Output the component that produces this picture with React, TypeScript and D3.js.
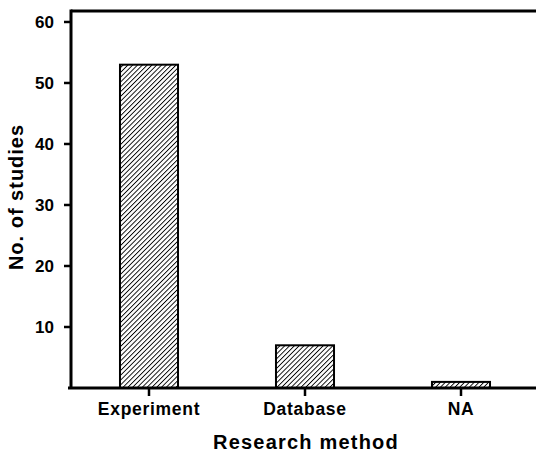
import React from "react";
import * as d3 from "d3";

const categories = ["Experiment", "Database", "NA"];
const studies = [53, 7, 1];
const yTicks = [10, 20, 30, 40, 50, 60];

const W = 536;
const H = 456;

export default function App() {
  const x = d3
    .scaleBand<string>()
    .domain(categories)
    .range([71, 539])
    .paddingInner(0.628)
    .paddingOuter(0.314);
  const y = d3.scaleLinear().domain([0, 61.8]).range([388, 11]);
  const font = "'Liberation Sans', Arial, sans-serif";

  return (
    <svg
      width={W}
      height={H}
      style={{ position: "absolute", left: 0, top: 0, background: "#fff" }}
      fontFamily={font}
      fontWeight="bold"
    >
      <defs>
        <pattern
          id="hatch"
          patternUnits="userSpaceOnUse"
          width={3.4}
          height={3.4}
          patternTransform="rotate(45)"
        >
          <rect width={3.4} height={3.4} fill="#fff" />
          <line x1={0} y1={0} x2={0} y2={3.4} stroke="#000" strokeWidth={1.8} />
        </pattern>
      </defs>
      <rect width={W} height={H} fill="#fff" />

      {categories.map((c, i) => (
        <rect
          key={c}
          x={x(c)!}
          y={y(studies[i])}
          width={x.bandwidth()}
          height={y(0) - y(studies[i])}
          fill="url(#hatch)"
          stroke="#000"
          strokeWidth={2}
        />
      ))}

      {/* axes */}
      <line x1={71} y1={11} x2={W} y2={11} stroke="#000" strokeWidth={3} />
      <line x1={71} y1={9.5} x2={71} y2={389} stroke="#000" strokeWidth={3} />
      <line x1={68} y1={388} x2={W} y2={388} stroke="#000" strokeWidth={3} />

      {yTicks.map((t) => (
        <g key={t}>
          <line x1={64} y1={y(t)} x2={71} y2={y(t)} stroke="#000" strokeWidth={2.5} />
          <text
            x={54}
            y={y(t)}
            dy="0.36em"
            textAnchor="end"
            fontSize={17}
          >
            {t}
          </text>
        </g>
      ))}

      {categories.map((c) => {
        const cx = x(c)! + x.bandwidth() / 2;
        return (
          <g key={c}>
            <line x1={cx} y1={388} x2={cx} y2={396} stroke="#000" strokeWidth={2.5} />
            <text
              x={cx}
              y={415}
              textAnchor="middle"
              fontSize={17.5}
              letterSpacing={0.7}
            >
              {c}
            </text>
          </g>
        );
      })}

      <text x={306} y={449} textAnchor="middle" fontSize={20} letterSpacing={1.2}>
        Research method
      </text>
      <text
        transform="translate(22.5,197) rotate(-90)"
        textAnchor="middle"
        fontSize={20}
        letterSpacing={1}
      >
        No. of studies
      </text>
    </svg>
  );
}
